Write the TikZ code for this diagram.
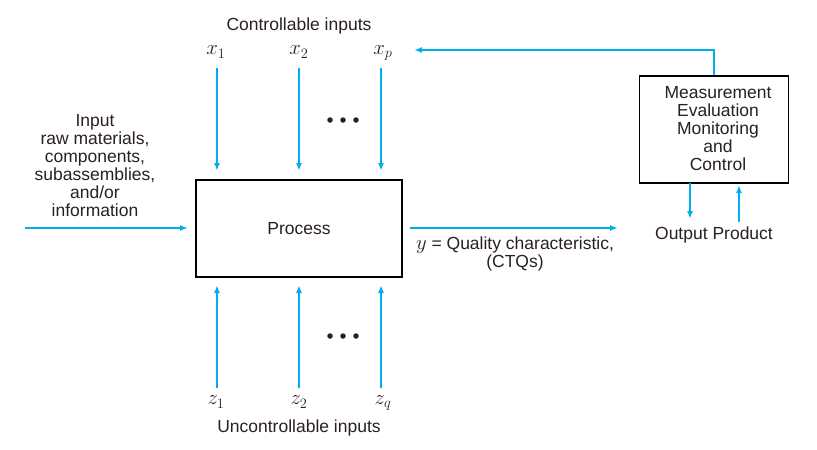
\documentclass[tikz,border=0pt]{standalone}
\usepackage{fontspec}
\setmainfont{Liberation Sans}
\usetikzlibrary{arrows.meta}
\definecolor{arr}{HTML}{00AEEF}
\definecolor{txt}{HTML}{2A2020}
\tikzset{
  flow/.style={draw=arr, line width=2.4pt, -{Latex[length=8pt,width=6pt]}},
  box/.style={draw=black, line width=1.1pt, fill=white, inner sep=0pt},
  lbl/.style={text=txt, font=\fontsize{17.5}{18}\selectfont, align=center, inner sep=0pt},
  mth/.style={text=txt, font=\fontsize{20}{22}\selectfont, inner sep=0pt},
  dot/.style={circle, fill=txt, inner sep=0pt, minimum size=5.5pt}
}
\begin{document}
\begin{tikzpicture}[x=1pt,y=-1pt]
\useasboundingbox (0,0) rectangle (817,450);
% boxes
\node[box, minimum width=206pt, minimum height=97pt] (proc) at (299,228.5) {};
\node[lbl] (proclbl) at (299,229) {Process};
\node[box, minimum width=149pt, minimum height=107pt] (meas) at (714,129.5) {};
\node[lbl, text width=145pt] (measlbl) at (718,129) {Measurement\\Evaluation\\Monitoring\\and\\Control};
% top labels
\node[lbl] (ctrl) at (299,26) {Controllable inputs};
\node[mth] (x1) at (216,52) {$x_1$};
\node[mth] (x2) at (299,52) {$x_2$};
\node[mth] (xp) at (383,53) {$x_p$};
\coordinate (x1s) at (217,68); \coordinate (x1e) at (217,171);
\coordinate (x2s) at (299,68); \coordinate (x2e) at (299,171);
\coordinate (xps) at (381,68); \coordinate (xpe) at (381,171);
\draw[flow] (x1s) -- (x1e);
\draw[flow] (x2s) -- (x2e);
\draw[flow] (xps) -- (xpe);
\node[dot] (d1) at (330,120) {};
\node[dot] (d2) at (343,120) {};
\node[dot] (d3) at (356,120) {};
% bottom labels
\node[lbl] (unc) at (299,428) {Uncontrollable inputs};
\node[mth] (z1) at (216,402) {$z_1$};
\node[mth] (z2) at (299,402) {$z_2$};
\node[mth] (zq) at (383,403) {$z_q$};
\coordinate (z1s) at (217,388); \coordinate (z1e) at (217,285);
\coordinate (z2s) at (299,388); \coordinate (z2e) at (299,285);
\coordinate (zqs) at (381,388); \coordinate (zqe) at (381,285);
\draw[flow] (z1s) -- (z1e);
\draw[flow] (z2s) -- (z2e);
\draw[flow] (zqs) -- (zqe);
\node[dot] (e1) at (330,336) {};
\node[dot] (e2) at (343,336) {};
\node[dot] (e3) at (356,336) {};
% input
\node[lbl] (inp) at (95,166) {Input\\raw materials,\\components,\\subassemblies,\\and/or\\information};
\coordinate (ins) at (25,228); \coordinate (ine) at (188,228);
\draw[flow] (ins) -- (ine);
% output
\coordinate (outs) at (410,228); \coordinate (oute) at (618,228);
\draw[flow] (outs) -- (oute);
\node[lbl] (ylbl) at (515,254) {{\fontsize{20}{20}\selectfont$y$} = Quality characteristic,\\(CTQs)};
\node[lbl] (outp) at (714,235) {Output Product};
% feedback
\coordinate (fbc) at (714,50); \coordinate (fbe) at (414,50);
\draw[flow] (meas.north) -- (fbc) -- (fbe);
\coordinate (m1s) at (690,183); \coordinate (m1e) at (690,219);
\coordinate (m2s) at (739,222); \coordinate (m2e) at (739,185);
\draw[flow] (m1s) -- (m1e);
\draw[flow] (m2s) -- (m2e);
\end{tikzpicture}
\end{document}
